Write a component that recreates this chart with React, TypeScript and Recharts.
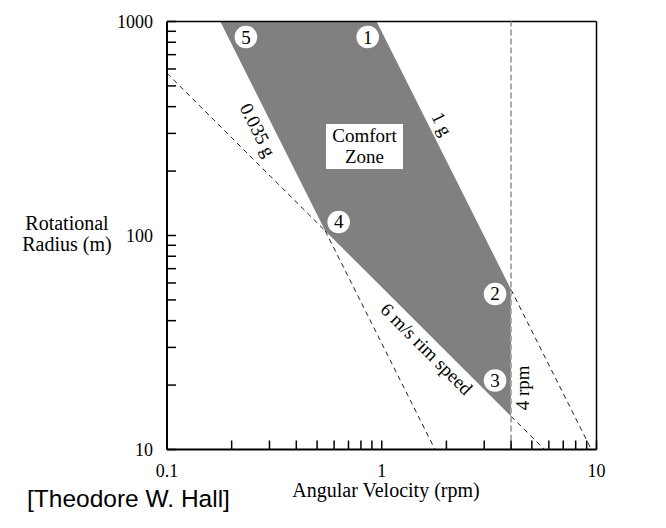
import {
  Area,
  ComposedChart,
  Line,
  ReferenceLine,
  Scatter,
  XAxis,
  YAxis,
} from "recharts";

// comfort zone outline: lower edge (0.035 g, then 6 m/s rim speed), upper edge (top, then 1 g)
const zoneRpm = [0.177, 0.546, 0.946, 4];
const zoneLow = [1000, 105, 60.6, 14.3];
const zoneHigh = [1000, 1000, 1000, 55.9];

// dashed guide lines outside the zone
const rimSpeedUpper = [
  { rpm: 0.1, r: 573 },
  { rpm: 0.546, r: 105 },
];
const lowGravityLower = [
  { rpm: 0.546, r: 105 },
  { rpm: 1.77, r: 10 },
];
const oneGLower = [
  { rpm: 4, r: 55.9 },
  { rpm: 9.46, r: 10 },
];
const rimSpeedLower = [
  { rpm: 4, r: 14.3 },
  { rpm: 5.73, r: 10 },
];
const fourRpm = [
  { rpm: 4, r: 10 },
  { rpm: 4, r: 1000 },
];

// numbered corner markers
const markerIds = ["5", "1", "2", "3", "4"];
const markerRpm = [0.233, 0.86, 3.37, 3.37, 0.63];
const markerR = [846, 846, 53.3, 21.0, 115.7];

// line annotations
const noteTexts = ["0.035 g", "1 g", "6 m/s rim speed", "4 rpm"];
const noteRpm = [0.265, 1.909, 1.619, 4.547];
const noteR = [311, 331.9, 29.5, 19.4];

const comfortRpm = 0.831;
const comfortR = 260.5;

const xTicks = [0.1, 0.2, 0.3, 0.4, 0.5, 0.6, 0.7, 0.8, 0.9, 1, 2, 3, 4, 5, 6, 7, 8, 9, 10];
const yTicks = [10, 20, 30, 40, 50, 60, 70, 80, 90, 100, 200, 300, 400, 500, 600, 700, 800, 900, 1000];
const xLabels = [0.1, 1, 10];
const yLabels = [10, 100, 1000];

const zoneData = zoneRpm.map((rpm, i) => ({ rpm, range: [zoneLow[i], zoneHigh[i]] }));
const markerData = markerIds.map((id, i) => ({ id, rpm: markerRpm[i], r: markerR[i] }));
const noteData = noteTexts.map((text, i) => ({ text, rpm: noteRpm[i], r: noteR[i] }));
const comfortData = [{ rpm: comfortRpm, r: comfortR }];

const SERIF = '"Liberation Serif", "Times New Roman", serif';
const noteAngle: Record<string, number> = {
  "0.035 g": 63.4,
  "1 g": 63.4,
  "6 m/s rim speed": 45,
  "4 rpm": -90,
};

const W = 666;
const H = 528;
const PLOT = { left: 167, top: 21.5, right: 596.5, bottom: 449.5 };
const Y_AXIS_W = 60;
const X_AXIS_H = 30;

function YTick(props: any) {
  const { y, payload } = props;
  const major = yLabels.includes(payload.value);
  return (
    <g>
      <line x1={PLOT.left} x2={PLOT.left + 9} y1={y} y2={y} stroke="#000" strokeWidth={1.5} />
      {major && (
        <text x={PLOT.left - 14} y={y + 6} textAnchor="end" fontFamily={SERIF} fontSize={18} fill="#000">
          {payload.value}
        </text>
      )}
    </g>
  );
}

function XTick(props: any) {
  const { x, payload } = props;
  const major = xLabels.includes(payload.value);
  return (
    <g>
      <line x1={x} x2={x} y1={PLOT.bottom} y2={PLOT.bottom - 9} stroke="#000" strokeWidth={1.5} />
      {major && (
        <text x={x} y={PLOT.bottom + 27} textAnchor="middle" fontFamily={SERIF} fontSize={18} fill="#000">
          {payload.value}
        </text>
      )}
    </g>
  );
}

function Marker(props: any) {
  const { cx, cy, payload } = props;
  return (
    <g>
      <circle cx={cx} cy={cy} r={11.3} fill="#fff" />
      <text x={cx} y={cy + 6.5} textAnchor="middle" fontFamily={SERIF} fontSize={19} fill="#000">
        {payload.id}
      </text>
    </g>
  );
}

function Note(props: any) {
  const { cx, cy, payload } = props;
  const angle = noteAngle[payload.text] ?? 0;
  return (
    <text
      x={cx}
      y={cy}
      transform={`rotate(${angle}, ${cx}, ${cy})`}
      textAnchor="middle"
      dominantBaseline="central"
      fontFamily={SERIF}
      fontSize={19}
      fill="#000"
    >
      {payload.text}
    </text>
  );
}

function ComfortLabel(props: any) {
  const { cx, cy } = props;
  return (
    <g>
      <rect x={cx - 38.5} y={cy - 22.5} width={77} height={45} fill="#fff" />
      <text x={cx} y={cy - 4.5} textAnchor="middle" fontFamily={SERIF} fontSize={19} fill="#000">
        Comfort
      </text>
      <text x={cx} y={cy + 16.5} textAnchor="middle" fontFamily={SERIF} fontSize={19} fill="#000">
        Zone
      </text>
    </g>
  );
}

const dashed = { stroke: "#222", strokeWidth: 1, strokeDasharray: "5 4" };

export default function App() {
  return (
    <div style={{ position: "absolute", left: 0, top: 0, width: W, height: H, background: "#fff" }}>
      <ComposedChart
        width={W}
        height={H}
        margin={{
          top: PLOT.top,
          right: W - PLOT.right,
          bottom: H - PLOT.bottom - X_AXIS_H,
          left: PLOT.left - Y_AXIS_W,
        }}
      >
        <XAxis
          dataKey="rpm"
          type="number"
          scale="log"
          domain={[0.1, 10]}
          ticks={xTicks}
          interval={0}
          allowDataOverflow
          height={X_AXIS_H}
          tickLine={false}
          axisLine={{ stroke: "#000", strokeWidth: 2 }}
          tick={<XTick />}
        />
        <YAxis
          dataKey="r"
          type="number"
          scale="log"
          domain={[10, 1000]}
          ticks={yTicks}
          interval={0}
          allowDataOverflow
          width={Y_AXIS_W}
          tickLine={false}
          axisLine={{ stroke: "#000", strokeWidth: 2 }}
          tick={<YTick />}
        />
        <ReferenceLine y={1000} stroke="#000" strokeWidth={1.5} />
        <ReferenceLine x={10} stroke="#000" strokeWidth={1.5} />
        <Area
          data={zoneData}
          dataKey="range"
          type="linear"
          fill="#808080"
          fillOpacity={1}
          stroke="none"
          isAnimationActive={false}
        />
        <Line data={rimSpeedUpper} dataKey="r" type="linear" dot={false} {...dashed} isAnimationActive={false} />
        <Line data={lowGravityLower} dataKey="r" type="linear" dot={false} {...dashed} isAnimationActive={false} />
        <Line data={oneGLower} dataKey="r" type="linear" dot={false} {...dashed} isAnimationActive={false} />
        <Line data={rimSpeedLower} dataKey="r" type="linear" dot={false} {...dashed} isAnimationActive={false} />
        <Line
          data={fourRpm}
          dataKey="r"
          type="linear"
          dot={false}
          stroke="#aaaaaa"
          strokeWidth={2}
          strokeDasharray="6 3"
          isAnimationActive={false}
        />
        <Scatter data={comfortData} shape={<ComfortLabel />} isAnimationActive={false} />
        <Scatter data={noteData} shape={<Note />} isAnimationActive={false} />
        <Scatter data={markerData} shape={<Marker />} isAnimationActive={false} />
      </ComposedChart>

      <div
        style={{
          position: "absolute",
          left: 17,
          top: 212.5,
          width: 100,
          textAlign: "center",
          fontFamily: SERIF,
          fontSize: 20,
          lineHeight: "21.5px",
          color: "#000",
        }}
      >
        Rotational
        <br />
        Radius (m)
      </div>
      <div
        style={{
          position: "absolute",
          left: 236,
          top: 480,
          width: 300,
          textAlign: "center",
          fontFamily: SERIF,
          fontSize: 20,
          lineHeight: "20px",
          color: "#000",
        }}
      >
        Angular Velocity (rpm)
      </div>
      <div
        style={{
          position: "absolute",
          left: 27,
          top: 487,
          fontFamily: '"Liberation Sans", Arial, sans-serif',
          fontSize: 24.5,
          lineHeight: "24.5px",
          color: "#000",
          whiteSpace: "nowrap",
        }}
      >
        [Theodore W. Hall]
      </div>
    </div>
  );
}
